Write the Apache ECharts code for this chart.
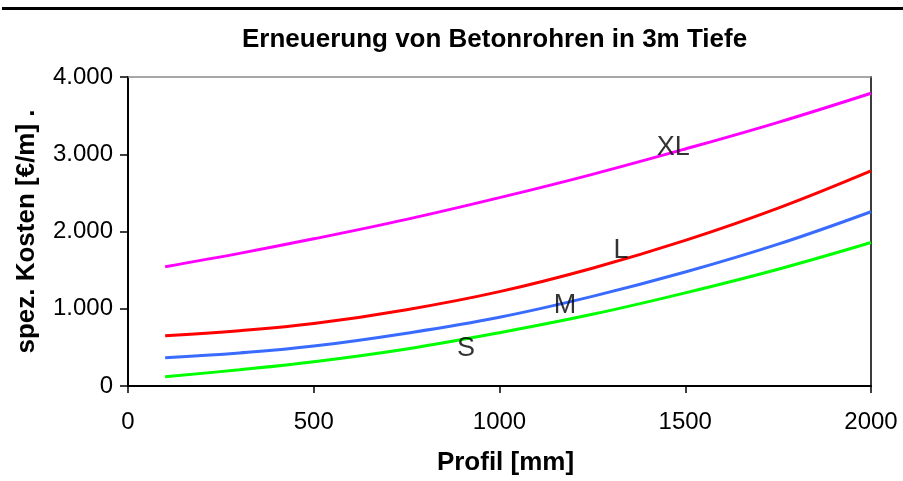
<!DOCTYPE html>
<html>
<head>
<meta charset="utf-8">
<script src="https://cdn.jsdelivr.net/npm/echarts@6/dist/echarts.min.js"></script>
<style>
  html, body { margin: 0; padding: 0; background: #ffffff; }
  #chart { width: 903px; height: 481px; }
</style>
</head>
<body>
<div id="chart"></div>
<script>
// Pipe profile (mm) and specific renewal cost (€/m) per size class
const profile = [100, 300, 500, 750, 1000, 1250, 1500, 1750, 2000];
const costXL = [1545, 1717, 1905, 2157, 2438, 2740, 3068, 3413, 3790];
const costL  = [650, 715, 808, 988, 1222, 1525, 1885, 2303, 2785];
const costM  = [366, 428, 517, 684, 890, 1160, 1475, 1836, 2256];
const costS  = [120, 210, 314, 480, 690, 928, 1206, 1512, 1858];

const classNames = ['XL', 'L', 'M', 'S'];
// where each class name is written, in axis units (profile, cost)
const classLabelAt = [[1468, 3087], [1327, 1748], [1176, 1042], [910, 485]];

const xTicks = [0, 500, 1000, 1500, 2000];
const yTicks = [0, 1000, 2000, 3000, 4000];

const titleText = 'Erneuerung von Betonrohren in 3m Tiefe';
const xName = 'Profil [mm]';
const yName = 'spez. Kosten [€/m] .';

const FONT = '"Liberation Sans", Arial, Helvetica, sans-serif';
const colors = ['#ff00ff', '#ff0000', '#3a6bff', '#00ff00'];
const costs = [costXL, costL, costM, costS];

function thousands(v) {
  return String(v).replace(/\B(?=(\d{3})+(?!\d))/g, '.');
}

const lineSeries = costs.map((arr, i) => ({
  name: classNames[i],
  type: 'line',
  data: profile.map((p, k) => [p, arr[k]]),
  smooth: 0.4,
  showSymbol: false,
  symbol: 'none',
  lineStyle: { color: colors[i], width: 3 },
  z: 3,
  silent: true
}));

const labelSeries = classNames.map((n, i) => ({
  type: 'scatter',
  data: [[classLabelAt[i][0], classLabelAt[i][1]]],
  symbolSize: 0,
  silent: true,
  z: 5,
  label: {
    show: true,
    position: 'inside',
    formatter: n,
    color: '#000',
    fontFamily: FONT,
    fontSize: 27
  }
}));

const chart = echarts.init(document.getElementById('chart'), null, { renderer: 'canvas' });
chart.setOption({
  animation: false,
  backgroundColor: '#ffffff',
  title: {
    text: titleText,
    left: 237,
    top: 22,
    textStyle: { fontFamily: FONT, fontWeight: 'bold', fontSize: 26, color: '#000' }
  },
  graphic: [{
    type: 'rect',
    shape: { x: 2, y: 7, width: 901, height: 3 },
    style: { fill: '#000' }
  }],
  grid: { left: 128, right: 32, top: 77, bottom: 95, containLabel: false },
  xAxis: [{
    type: 'value',
    min: 0, max: 2000, interval: 500,
    name: xName,
    nameLocation: 'middle',
    nameGap: 64,
    nameTextStyle: { fontFamily: FONT, fontWeight: 'bold', fontSize: 26, color: '#000', padding: [0, 0, 0, 12] },
    axisLine: { show: true, onZero: false, lineStyle: { color: '#000', width: 2 } },
    axisTick: { show: true, inside: false, length: 7, lineStyle: { color: '#000', width: 1.5 } },
    axisLabel: {
      margin: 24, fontFamily: FONT, fontSize: 24, color: '#000',
      formatter: v => (xTicks.indexOf(v) >= 0 ? String(v) : '')
    },
    splitLine: { show: false }
  }, {
    type: 'value', position: 'top',
    min: 0, max: 2000,
    axisLine: { show: true, onZero: false, lineStyle: { color: '#8a8a8a', width: 1.5 } },
    axisTick: { show: false }, axisLabel: { show: false }, splitLine: { show: false }
  }],
  yAxis: [{
    type: 'value',
    min: 0, max: 4000, interval: 1000,
    name: yName,
    nameLocation: 'middle',
    nameRotate: 90,
    nameGap: 88,
    nameTextStyle: { fontFamily: FONT, fontWeight: 'bold', fontSize: 26, color: '#000' },
    axisLine: { show: true, onZero: false, lineStyle: { color: '#000', width: 2 } },
    axisTick: { show: true, inside: false, length: 8, lineStyle: { color: '#000', width: 1.5 } },
    axisLabel: {
      margin: 15, fontFamily: FONT, fontSize: 24, color: '#000',
      formatter: v => (yTicks.indexOf(v) >= 0 ? thousands(v) : '')
    },
    splitLine: { show: false }
  }, {
    type: 'value', position: 'right',
    min: 0, max: 4000,
    axisLine: { show: true, onZero: false, lineStyle: { color: '#3c3c3c', width: 2 } },
    axisTick: { show: false }, axisLabel: { show: false }, splitLine: { show: false }
  }],
  series: lineSeries.concat(labelSeries)
});
</script>
</body>
</html>
